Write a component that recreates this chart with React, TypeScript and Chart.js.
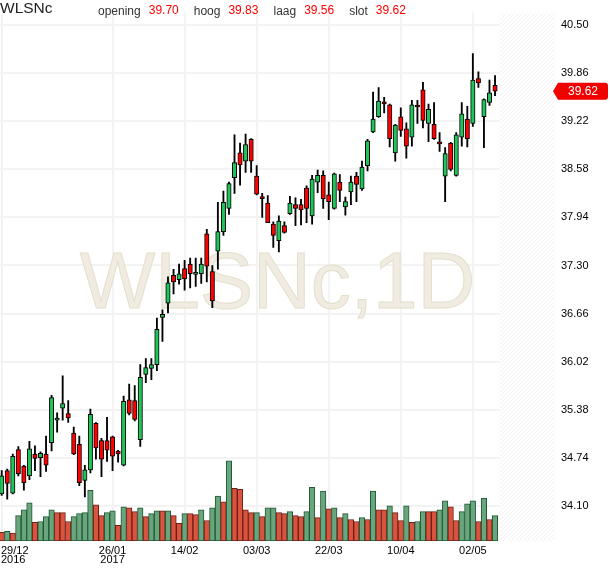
import { useEffect, useRef } from "react";
import { Chart, registerables, type ChartConfiguration, type Plugin } from "chart.js";

Chart.register(...registerables);

const symbol = "WLSNc";
const watermark = "WLSNc,1D";

// daily candles, 29/12/2016 .. 08/05/2017
const opens = [
  34.26, 34.57, 34.27, 34.85, 34.63, 34.5, 34.79, 34.74, 34.79, 34.94,
  35.24, 35.4, 35.33, 35.07, 34.92, 34.44, 34.58, 35.2, 34.97, 34.97,
  35.02, 34.83, 34.64, 35.51, 35.5, 34.98, 35.85, 35.93, 35.98, 36.61,
  36.8, 37.17, 37.11, 37.26, 37.32, 37.18, 37.19, 37.72, 37.22, 37.49,
  37.75, 38.06, 38.47, 38.8, 38.69, 38.98, 38.49, 38.2, 38.13, 37.85,
  37.63, 37.83, 37.99, 38.11, 38.11, 38.33, 37.96, 38.41, 38.5, 38.24,
  38.06, 38.41, 38.08, 38.28, 38.49, 38.32, 38.63, 39.08, 39.28, 39.48,
  39.44, 38.8, 39.28, 39.12, 39.01, 39.42, 39.64, 39.19, 39.18, 38.93,
  38.49, 38.93, 38.5, 39.01, 39.25, 39.19, 39.79, 39.28, 39.47, 39.7,
];
const highs = [
  34.57, 34.59, 34.79, 34.89, 34.64, 34.96, 34.9, 34.82, 35.03, 35.57,
  35.34, 35.83, 35.5, 35.15, 35.03, 34.64, 35.39, 35.21, 35.0, 35.28,
  35.03, 34.84, 35.56, 35.72, 35.7, 35.98, 36.06, 36.06, 36.6, 36.71,
  37.15, 37.25, 37.32, 37.37, 37.4, 37.4, 37.4, 37.78, 37.3, 38.14,
  38.29, 38.41, 39.04, 38.93, 39.05, 38.99, 38.63, 38.26, 38.23, 37.88,
  37.96, 37.88, 38.22, 38.2, 38.18, 38.36, 38.5, 38.57, 38.56, 38.41,
  38.53, 38.51, 38.21, 38.49, 38.54, 38.69, 38.98, 39.61, 39.67, 39.54,
  39.45, 39.18, 39.4, 39.2, 39.5, 39.5, 39.74, 39.45, 39.47, 39.07,
  38.87, 38.94, 39.07, 39.47, 39.42, 40.12, 39.88, 39.52, 39.77, 39.83,
];
const lows = [
  34.24, 34.19, 34.26, 34.5, 34.31, 34.45, 34.57, 34.49, 34.56, 34.83,
  35.08, 35.24, 35.21, 34.78, 34.37, 34.22, 34.54, 34.72, 34.49, 34.69,
  34.57, 34.68, 34.63, 35.31, 35.23, 34.89, 35.74, 35.78, 35.9, 36.29,
  36.67, 36.92, 37.05, 36.97, 37.0, 37.02, 37.06, 37.08, 36.74, 37.25,
  37.7, 37.98, 38.26, 38.37, 38.54, 38.54, 38.24, 37.94, 37.87, 37.54,
  37.48, 37.73, 37.98, 37.83, 37.84, 37.87, 37.85, 38.27, 38.06, 37.91,
  38.05, 38.15, 37.97, 38.11, 38.15, 38.3, 38.56, 39.07, 39.27, 39.33,
  38.88, 38.69, 39.02, 38.73, 38.89, 39.19, 39.13, 38.95, 38.98, 38.82,
  38.15, 38.56, 38.49, 38.89, 38.88, 39.15, 39.67, 38.87, 39.43, 39.56,
];
const closes = [
  34.5, 34.4, 34.76, 34.53, 34.41, 34.86, 34.73, 34.8, 34.64, 35.54,
  35.27, 35.46, 35.27, 34.79, 34.41, 34.58, 35.32, 34.87, 34.72, 34.84,
  34.76, 34.79, 35.49, 35.33, 35.25, 35.81, 35.94, 35.98, 36.45, 36.65,
  37.07, 37.08, 37.19, 37.12, 37.19, 37.21, 37.32, 37.29, 36.83, 37.75,
  38.14, 38.39, 38.67, 38.64, 38.91, 38.69, 38.25, 38.19, 37.87, 37.7,
  37.89, 37.74, 38.13, 38.06, 38.04, 38.06, 38.45, 38.5, 38.19, 38.15,
  38.52, 38.3, 38.15, 38.41, 38.38, 38.61, 38.96, 39.25, 39.49, 39.45,
  38.99, 39.17, 39.1, 38.89, 39.44, 39.41, 39.23, 39.38, 38.99, 38.92,
  38.79, 38.58, 39.04, 39.32, 38.99, 39.77, 39.73, 39.51, 39.6, 39.62,
];
// volume in thousands of shares
const volumes = [
  225, 250, 200, 650, 800, 975, 475, 500, 625, 800,
  725, 725, 500, 625, 700, 725, 1300, 925, 650, 725,
  775, 400, 875, 850, 750, 850, 625, 700, 775, 775,
  775, 650, 450, 700, 700, 675, 800, 525, 850, 1150,
  1000, 2050, 1350, 1325, 800, 725, 725, 625, 850, 850,
  725, 700, 750, 650, 625, 750, 1375, 600, 1275, 825,
  850, 600, 700, 550, 500, 600, 550, 1275, 800, 800,
  900, 725, 525, 900, 475, 500, 750, 750, 750, 800,
  1025, 875, 525, 750, 950, 1025, 500, 1100, 550, 650,
];
const volumeUp = [
  0, 1, 0, 1, 1, 1, 0, 1, 1, 1,
  0, 0, 0, 1, 1, 1, 1, 0, 0, 1,
  1, 0, 1, 0, 0, 1, 0, 1, 1, 0,
  1, 0, 0, 1, 0, 0, 1, 0, 1, 1,
  0, 1, 0, 0, 0, 0, 1, 0, 1, 1,
  0, 0, 1, 0, 0, 1, 1, 0, 1, 0,
  1, 0, 1, 0, 0, 1, 0, 1, 0, 0,
  1, 0, 0, 1, 0, 1, 1, 0, 0, 1,
  1, 0, 0, 1, 1, 1, 0, 1, 0, 1,
];

const priceTicks = [34.1, 34.74, 35.38, 36.02, 36.66, 37.3, 37.94, 38.58, 39.22, 39.86, 40.5];
const dateTickIndex = [0, 20, 33, 46, 59, 72, 85];
const dateTickLabels = ["29/12", "26/01", "14/02", "03/03", "22/03", "10/04", "02/05"];
const dateTickYears = ["2016", "2017", "", "", "", "", ""];
const quoteLabels = ["opening", "hoog", "laag", "slot"];

const FONT = "Arial, 'Liberation Sans', sans-serif";

const backdropPlugin: Plugin<"bar"> = {
  id: "backdrop",
  beforeDatasetsDraw(chart) {
    const { ctx, chartArea, scales } = chart;
    const { left, right, top, bottom } = chartArea;
    ctx.save();

    ctx.font = `80px ${FONT}`;
    ctx.textAlign = "center";
    ctx.textBaseline = "alphabetic";
    ctx.fillStyle = "#f0ece2";
    ctx.strokeStyle = "#e5dfcd";
    ctx.lineWidth = 1;
    ctx.fillText(watermark, (left + right) / 2, top + 295);
    ctx.strokeText(watermark, (left + right) / 2, top + 295);

    // hatched zone after the last session
    const hx = scales.x.getPixelForValue(opens.length - 0.2);
    const h = bottom - top;
    ctx.beginPath();
    ctx.rect(hx, top, right - hx, h);
    ctx.clip();
    ctx.fillStyle = "#ffffff";
    ctx.fill();
    ctx.strokeStyle = "#f2f2f2";
    ctx.lineWidth = 1;
    for (let s = hx - h; s < right; s += 4) {
      ctx.beginPath();
      ctx.moveTo(s, bottom);
      ctx.lineTo(s + h, top);
      ctx.stroke();
    }
    ctx.restore();
  },
};

const overlayPlugin: Plugin<"bar"> = {
  id: "overlay",
  afterDraw(chart) {
    const { ctx, chartArea, scales } = chart;
    const last = opens.length - 1;
    ctx.save();

    // header
    ctx.textAlign = "left";
    ctx.textBaseline = "alphabetic";
    ctx.font = `15.5px ${FONT}`;
    ctx.fillStyle = "#222";
    ctx.fillText(symbol, 0, 13);

    const quoteValues = [opens[last], highs[last], lows[last], closes[last]];
    let hx = 98;
    ctx.font = `12px ${FONT}`;
    quoteLabels.forEach((label, i) => {
      ctx.fillStyle = "#333";
      ctx.fillText(label, hx, 15);
      hx += ctx.measureText(label).width + 8;
      const text = quoteValues[i].toFixed(2);
      ctx.fillStyle = "#ff0000";
      ctx.fillText(text, hx, 14);
      hx += ctx.measureText(text).width + 15;
    });

    // last price tag
    const py = scales.y.getPixelForValue(closes[last]);
    const tx = chartArea.right + 1;
    ctx.fillStyle = "#f20000";
    ctx.beginPath();
    ctx.moveTo(tx - 3, py);
    ctx.lineTo(tx + 2, py - 8.5);
    ctx.lineTo(tx + 49, py - 8.5);
    ctx.quadraticCurveTo(tx + 52, py - 8.5, tx + 52, py - 5.5);
    ctx.lineTo(tx + 52, py + 5.5);
    ctx.quadraticCurveTo(tx + 52, py + 8.5, tx + 49, py + 8.5);
    ctx.lineTo(tx + 2, py + 8.5);
    ctx.closePath();
    ctx.fill();
    ctx.fillStyle = "#ffffff";
    ctx.font = `12px ${FONT}`;
    ctx.textAlign = "center";
    ctx.textBaseline = "middle";
    ctx.fillText(closes[last].toFixed(2), tx + 27, py + 0.5);

    // date labels
    ctx.font = `11px ${FONT}`;
    ctx.fillStyle = "#000";
    ctx.textAlign = "left";
    ctx.textBaseline = "alphabetic";
    dateTickIndex.forEach((idx, i) => {
      const x = scales.x.getPixelForValue(idx);
      [dateTickLabels[i], dateTickYears[i]].forEach((text, line) => {
        if (!text) return;
        const w = ctx.measureText(text).width;
        const lx = Math.max(1, x - w / 2);
        ctx.fillText(text, lx, chartArea.bottom + 12.5 + line * 9.5);
      });
    });
    ctx.restore();
  },
};

export default function App() {
  const canvasRef = useRef<HTMLCanvasElement | null>(null);

  useEffect(() => {
    const canvas = canvasRef.current;
    if (!canvas) return;

    const idx = opens.map((_, i) => i);

    const configuration: ChartConfiguration<"bar"> = {
      type: "bar",
      data: {
        datasets: [
          {
            label: "body",
            data: idx.map((i) => ({ x: i, y: [opens[i], closes[i]] })) as any,
            backgroundColor: idx.map((i) => (closes[i] >= opens[i] ? "#1fc45a" : "#ff0000")),
            borderColor: "#000000",
            borderWidth: 1,
            borderSkipped: false,
            barThickness: 4.4,
            minBarLength: 2,
            grouped: false,
            order: 0,
            yAxisID: "y",
          },
          {
            label: "wick",
            data: idx.map((i) => ({ x: i, y: [lows[i], highs[i]] })) as any,
            backgroundColor: "#000000",
            borderWidth: 0,
            barThickness: 1.2,
            grouped: false,
            order: 1,
            yAxisID: "y",
          },
          {
            label: "volume",
            data: idx.map((i) => ({ x: i, y: volumes[i] })) as any,
            backgroundColor: idx.map((i) => (volumeUp[i] ? "#6aa67d" : "#d9543f")),
            borderColor: idx.map((i) => (volumeUp[i] ? "#1f5833" : "#6e1e15")),
            borderWidth: 1,
            borderSkipped: false,
            barThickness: 5.5,
            grouped: false,
            order: 2,
            yAxisID: "vol",
          },
        ],
      },
      options: {
        animation: false,
        responsive: true,
        maintainAspectRatio: false,
        events: [],
        layout: { padding: 0 },
        plugins: {
          legend: { display: false },
          tooltip: { enabled: false },
        },
        scales: {
          x: {
            type: "linear",
            min: -0.307,
            max: 99.82,
            bounds: "data",
            offset: false,
            afterBuildTicks: (scale) => {
              scale.ticks = dateTickIndex.map((value) => ({ value }));
            },
            afterFit: (scale) => {
              scale.height = 27;
            },
            grid: { color: "#f3f3f3", lineWidth: 2, drawTicks: false, offset: false },
            border: { display: false },
            ticks: { display: false },
          },
          y: {
            type: "linear",
            position: "right",
            min: 33.632,
            max: 40.667,
            bounds: "data",
            afterBuildTicks: (scale) => {
              scale.ticks = priceTicks.map((value) => ({ value }));
            },
            afterFit: (scale) => {
              scale.width = 55;
            },
            grid: { color: "#f3f3f3", lineWidth: 2, drawTicks: false },
            border: { display: false },
            ticks: {
              autoSkip: false,
              padding: 6,
              color: "#000000",
              font: { family: FONT, size: 11 },
              callback: (value) => Number(value).toFixed(2),
            },
          },
          vol: {
            type: "linear",
            display: false,
            min: 0,
            max: 13525,
          },
        },
      },
      plugins: [backdropPlugin, overlayPlugin],
    };

    const chart = new Chart(canvas, configuration);
    return () => {
      chart.destroy();
    };
  }, []);

  return (
    <div style={{ position: "absolute", left: 0, top: 0, width: 610, height: 568, background: "#fff" }}>
      <canvas ref={canvasRef} aria-label="WLSNc dagkoers" role="img" />
    </div>
  );
}
